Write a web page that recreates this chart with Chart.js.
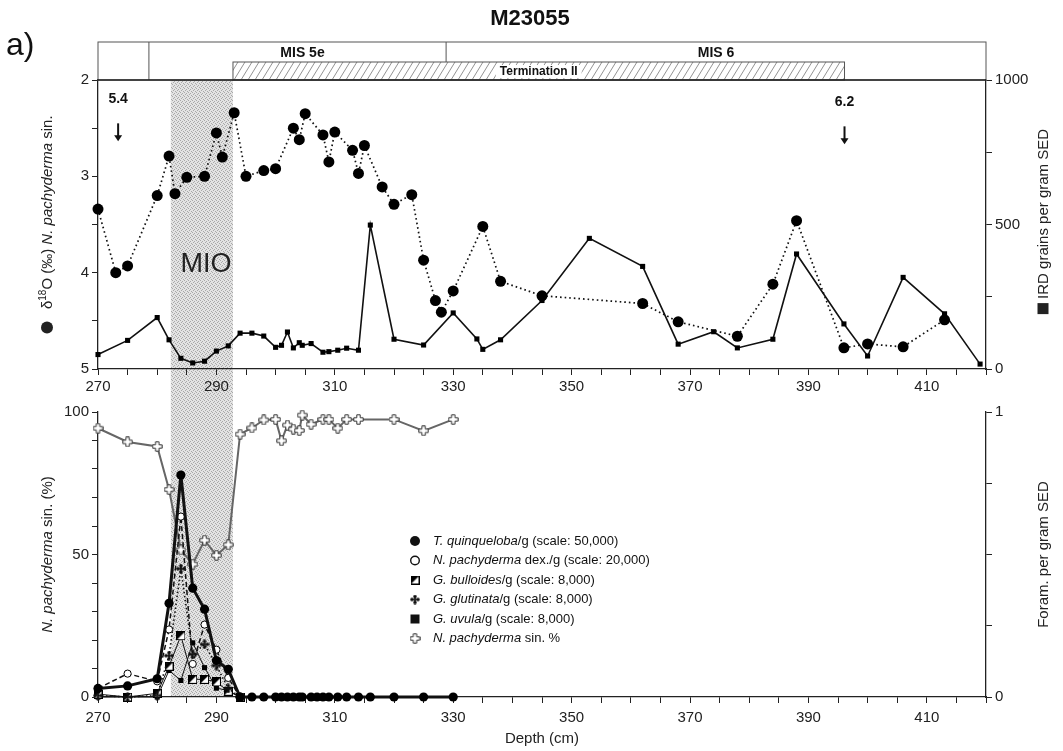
<!DOCTYPE html>
<html>
<head>
<meta charset="utf-8">
<title>M23055</title>
<script src="https://cdn.jsdelivr.net/npm/chart.js@4"></script>
<style>
body{margin:0;background:#fff;width:1063px;height:751px;overflow:hidden;position:relative}
canvas{position:absolute;left:0}
#top{top:0}
#bot{top:400px}
</style>
</head>
<body>
<canvas id="top" width="1063" height="400"></canvas>
<canvas id="bot" width="1063" height="351"></canvas>
<script>
// depth range shared by both panels (cm)
const depthMin = 270, depthMax = 420;

// upper panel : d18O N. pachyderma sin. (per mil)
const o18Depth = [270, 273, 275, 280, 282, 283, 285, 288, 290, 291, 293, 295, 298, 300, 303, 304, 305, 308, 309, 310, 313, 314, 315, 318, 320, 323, 325, 327, 328, 330, 335, 338, 345, 362, 368, 378, 384, 388, 396, 400, 406, 413];
const o18Value = [3.34, 4.00, 3.93, 3.20, 2.79, 3.18, 3.01, 3.00, 2.55, 2.80, 2.34, 3.00, 2.94, 2.92, 2.50, 2.62, 2.35, 2.57, 2.85, 2.54, 2.73, 2.97, 2.68, 3.11, 3.29, 3.19, 3.87, 4.29, 4.41, 4.19, 3.52, 4.09, 4.24, 4.32, 4.51, 4.66, 4.12, 3.46, 4.78, 4.74, 4.77, 4.49];

// upper panel : IRD grains per gram sediment
const irdDepth = [270, 275, 280, 282, 284, 286, 288, 290, 292, 294, 296, 298, 300, 301, 302, 303, 304, 304.5, 306, 308, 309, 310.5, 312, 314, 316, 320, 325, 330, 334, 335, 338, 345, 353, 362, 368, 374, 378, 384, 388, 396, 400, 406, 413, 419];
const irdValue = [50, 99, 178, 101, 37, 21, 27, 62, 80, 124, 124, 114, 75, 82, 128, 73, 91, 82, 88, 58, 60, 65, 72, 65, 498, 103, 83, 194, 104, 68, 101, 237, 452, 355, 86, 129, 73, 103, 398, 156, 45, 317, 191, 17];

// lower panel : N. pachyderma sin. (%)
const sinDepth = [270, 275, 280, 282, 284, 286, 288, 290, 292, 294, 296, 298, 300, 301, 302, 303, 304, 304.5, 306, 308, 309, 310.5, 312, 314, 320, 325, 330];
const sinPct = [94.3, 89.5, 87.9, 72.8, 51.6, 46.6, 55, 49.7, 53.4, 92.2, 94.4, 97.2, 97.4, 89.9, 95.4, 94.0, 93.5, 98.9, 95.7, 97.4, 97.4, 94.3, 97.4, 97.4, 97.4, 93.4, 97.4];

// lower panel : foraminifera per gram, as fraction of the legend scale
const quinqDepth = [270, 275, 280, 282, 284, 286, 288, 290, 292, 294, 296, 298, 300, 301, 302, 303, 304, 304.5, 306, 307, 308, 309, 310.5, 312, 314, 316, 320, 325, 330];
const quinqValue = [0.030, 0.039, 0.064, 0.329, 0.779, 0.382, 0.308, 0.128, 0.097, 0, 0, 0, 0, 0, 0, 0, 0, 0, 0, 0, 0, 0, 0, 0, 0, 0, 0, 0, 0];
const foramDepth = [270, 275, 280, 282, 284, 286, 288, 290, 292, 294];
const dexValue = [0.030, 0.082, 0.055, 0.237, 0.633, 0.116, 0.254, 0.166, 0.067, 0];
const bullValue = [0.010, 0, 0.013, 0.108, 0.215, 0.062, 0.062, 0.053, 0.020, 0];
const glutValue = [0.005, 0, 0.005, 0.145, 0.450, 0.150, 0.185, 0.110, 0.030, 0];
const uvulaValue = [0, 0, 0, 0.093, 0.058, 0.190, 0.103, 0.031, 0.023, 0];

// stratigraphy bar and marks
const misDividers = [278.6, 328.8];
const terminationII = [292.8, 396.1];
const mioBand = [282.3, 292.8];
const isoEvents = ['5.4', '6.2'];
const isoEventDepth = [273.4, 396.1];

const FONT = 'Liberation Sans, Arial, sans-serif';
Chart.defaults.font.family = FONT;
Chart.defaults.color = '#222';

const pts = (xs, ys) => xs.map((x, i) => ({x, y: ys[i]}));

// small marker images
function openCross() {
  const c = document.createElement('canvas'); c.width = c.height = 11;
  const g = c.getContext('2d');
  const a = 0.8, b = 3.8, d = 7.2, e = 10.2;
  g.beginPath();
  g.moveTo(b, a); g.lineTo(d, a); g.lineTo(d, b); g.lineTo(e, b); g.lineTo(e, d); g.lineTo(d, d);
  g.lineTo(d, e); g.lineTo(b, e); g.lineTo(b, d); g.lineTo(a, d); g.lineTo(a, b); g.lineTo(b, b); g.closePath();
  g.fillStyle = '#fff'; g.fill(); g.strokeStyle = '#333'; g.lineWidth = 1; g.stroke();
  return c;
}
function halfSquare() {
  const c = document.createElement('canvas'); c.width = c.height = 9;
  const g = c.getContext('2d');
  g.fillStyle = '#fff'; g.fillRect(0.5, 0.5, 8, 8);
  g.beginPath(); g.moveTo(0.5, 0.5); g.lineTo(8.5, 0.5); g.lineTo(0.5, 8.5); g.closePath();
  g.fillStyle = '#000'; g.fill();
  g.strokeStyle = '#000'; g.lineWidth = 1; g.strokeRect(0.5, 0.5, 8, 8);
  return c;
}
function glutMark() {
  const c = document.createElement('canvas'); c.width = c.height = 10;
  const g = c.getContext('2d');
  g.fillStyle = '#111';
  [[5, 2], [5, 8], [2, 5], [8, 5]].forEach(([x, y]) => { g.beginPath(); g.arc(x, y, 1.8, 0, Math.PI * 2); g.fill(); });
  g.fillRect(4.3, 2, 1.4, 6); g.fillRect(2, 4.3, 6, 1.4);
  return c;
}
const imgCross = openCross(), imgHalf = halfSquare(), imgGlut = glutMark();

// stippled shading for the MIO band
const pat = (() => {
  const c = document.createElement('canvas'); c.width = c.height = 4;
  const g = c.getContext('2d');
  g.fillStyle = '#e3e3e3'; g.fillRect(0, 0, 4, 4);
  g.fillStyle = '#a8a8a8';
  [[0, 0], [2, 1], [1, 2], [3, 3]].forEach(([x, y]) => g.fillRect(x, y, 1, 1));
  return g.createPattern(c, 'repeat');
})();

function richText(ctx, parts, cx, cy, rot) {
  ctx.save();
  ctx.translate(cx, cy); ctx.rotate(rot);
  ctx.textBaseline = 'alphabetic'; ctx.textAlign = 'left'; ctx.fillStyle = '#222';
  let w = 0;
  parts.forEach(p => {
    if (p.dot) p.w = p.dot * 2;
    else if (p.sq) p.w = p.sq;
    else { ctx.font = p.font; p.w = ctx.measureText(p.t).width; }
    w += p.w;
  });
  let x = -w / 2;
  parts.forEach(p => {
    if (p.dot) { ctx.beginPath(); ctx.arc(x + p.dot, 0, p.dot, 0, Math.PI * 2); ctx.fill(); }
    else if (p.sq) ctx.fillRect(x, -p.sq / 2, p.sq, p.sq);
    else { ctx.font = p.font; ctx.fillText(p.t, x, 5 + (p.dy || 0)); }
    x += p.w;
  });
  ctx.restore();
}

const tickCfg = (extra) => Object.assign({
  grid: {display: true, drawOnChartArea: false, drawTicks: true, tickLength: 6, color: '#222', lineWidth: 1},
  border: {display: true, color: '#222', width: 1.3},
}, extra);

const xAxis = (pad) => tickCfg({
  type: 'linear', min: depthMin, max: depthMax,
  ticks: {stepSize: 5, autoSkip: false, maxRotation: 0, padding: pad, font: {size: 15},
    callback: v => ((v - depthMin) % 20 === 0 && v <= 410) ? v : ''},
});

// ---------- upper panel ----------
const upperDecor = {
  id: 'upperDecor',
  beforeDraw(chart) {
    const {ctx, chartArea: a} = chart, x = chart.scales.x;
    const x0 = x.getPixelForValue(mioBand[0]), x1 = x.getPixelForValue(mioBand[1]);
    ctx.save(); ctx.fillStyle = pat; ctx.fillRect(x0, a.top, x1 - x0, chart.height - a.top); ctx.restore();
  },
  afterDraw(chart) {
    const {ctx, chartArea: a} = chart, x = chart.scales.x, yO = chart.scales.yO;
    ctx.save();
    // title and panel letter
    ctx.fillStyle = '#111'; ctx.textAlign = 'center'; ctx.textBaseline = 'middle';
    ctx.font = 'bold 22px ' + FONT; ctx.fillText('M23055', 530, 19);
    ctx.textAlign = 'left'; ctx.font = '32px ' + FONT; ctx.fillText('a)', 6, 46);

    // stratigraphy box
    const top = a.top - 38, mid = a.top - 18;
    ctx.strokeStyle = '#555'; ctx.lineWidth = 1;
    ctx.strokeRect(a.left, top, a.right - a.left, a.top - top);
    ctx.beginPath();
    ctx.moveTo(x.getPixelForValue(misDividers[0]), top); ctx.lineTo(x.getPixelForValue(misDividers[0]), a.top);
    ctx.moveTo(x.getPixelForValue(misDividers[1]), top); ctx.lineTo(x.getPixelForValue(misDividers[1]), mid);
    ctx.stroke();
    const t0 = x.getPixelForValue(terminationII[0]), t1 = x.getPixelForValue(terminationII[1]);
    ctx.save();
    ctx.beginPath(); ctx.rect(t0, mid, t1 - t0, a.top - mid); ctx.clip();
    ctx.strokeStyle = '#777'; ctx.lineWidth = 0.8; ctx.beginPath();
    for (let hx = t0 - 20; hx < t1 + 20; hx += 7) { ctx.moveTo(hx, a.top); ctx.lineTo(hx + 11, mid); }
    ctx.stroke();
    ctx.restore();
    ctx.strokeStyle = '#555'; ctx.strokeRect(t0, mid, t1 - t0, a.top - mid);
    ctx.font = 'bold 12px ' + FONT; ctx.textAlign = 'center';
    const tm = (t0 + t1) / 2, tw = ctx.measureText('Termination II').width;
    ctx.fillStyle = '#fff'; ctx.fillRect(tm - tw / 2 - 4, mid + 3, tw + 8, 13);
    ctx.fillStyle = '#111'; ctx.fillText('Termination II', tm, mid + 10);
    ctx.font = 'bold 14px ' + FONT;
    ctx.fillText('MIS 5e', (x.getPixelForValue(misDividers[0]) + x.getPixelForValue(misDividers[1])) / 2 + 5, top + 11);
    ctx.fillText('MIS 6', (x.getPixelForValue(misDividers[1]) + a.right) / 2, top + 11);

    // isotope event arrows
    isoEventDepth.forEach((d, i) => {
      const px = x.getPixelForValue(d);
      ctx.font = 'bold 14px ' + FONT; ctx.fillStyle = '#111';
      ctx.fillText(isoEvents[i], px, yO.getPixelForValue(2.2) + (i ? 3 : 0));
      const ya = yO.getPixelForValue(2.45) + (i ? 3 : 0), yb = ya + 18;
      ctx.strokeStyle = '#111'; ctx.lineWidth = 2;
      ctx.beginPath(); ctx.moveTo(px, ya); ctx.lineTo(px, yb - 4); ctx.stroke();
      ctx.beginPath(); ctx.moveTo(px - 4, yb - 6); ctx.lineTo(px + 4, yb - 6); ctx.lineTo(px, yb); ctx.closePath(); ctx.fill();
    });

    // MIO label
    ctx.font = '27px ' + FONT; ctx.fillStyle = '#222';
    ctx.fillText('MIO', x.getPixelForValue((mioBand[0] + mioBand[1]) / 2) + 4, yO.getPixelForValue(3.92));

    // top frame line
    ctx.strokeStyle = '#222'; ctx.lineWidth = 1.3;
    ctx.beginPath(); ctx.moveTo(a.left, a.top); ctx.lineTo(a.right, a.top); ctx.stroke();

    // axis titles
    const f = '15px ' + FONT, fi = 'italic 15px ' + FONT;
    richText(ctx, [{dot: 6}, {t: '   \u03b4', font: f}, {t: '18', font: '10px ' + FONT, dy: -6}, {t: 'O (\u2030) ', font: f},
      {t: 'N. pachyderma', font: fi}, {t: ' sin.', font: f}], 47, (a.top + a.bottom) / 2, -Math.PI / 2);
    richText(ctx, [{sq: 11}, {t: ' IRD grains per gram SED', font: f}], 1043, (a.top + a.bottom) / 2 - 3, -Math.PI / 2);
    ctx.restore();
  }
};

new Chart(document.getElementById('top'), {
  type: 'line',
  data: {
    datasets: [
      {label: 'd18O', data: pts(o18Depth, o18Value), yAxisID: 'yO', borderColor: '#111', borderWidth: 1.7,
        borderDash: [1.6, 3], pointStyle: 'circle', pointRadius: 5.5, pointBackgroundColor: '#000',
        pointBorderColor: '#000', pointBorderWidth: 0, clip: false},
      {label: 'IRD', data: pts(irdDepth, irdValue), yAxisID: 'yIRD', borderColor: '#111', borderWidth: 1.6,
        pointStyle: 'rect', pointRadius: 3.6, pointBackgroundColor: '#000', pointBorderWidth: 0, clip: false},
    ]
  },
  options: {
    responsive: false, animation: false,
    layout: {padding: {top: 80, left: 0, right: 0, bottom: 0}},
    plugins: {legend: {display: false}, tooltip: {enabled: false}},
    scales: {
      x: Object.assign(xAxis(3), {afterFit: s => { s.height = 31; }}),
      yO: tickCfg({type: 'linear', position: 'left', reverse: true, min: 2, max: 5,
        ticks: {stepSize: 0.5, padding: 3, font: {size: 15}, callback: v => Number.isInteger(v) ? v : ''},
        afterFit: s => { s.width = 98; }}),
      yIRD: tickCfg({type: 'linear', position: 'right', min: 0, max: 1000,
        ticks: {stepSize: 250, padding: 3, font: {size: 15}, callback: v => v % 500 === 0 ? v : ''},
        afterFit: s => { s.width = 77; }}),
    }
  },
  plugins: [upperDecor]
});

// ---------- lower panel ----------
const legendItems = [
  {mark: 'dot', it: 'T. quinqueloba', rest: '/g (scale: 50,000)'},
  {mark: 'ring', it: 'N. pachyderma', rest: ' dex./g (scale: 20,000)'},
  {mark: imgHalf, it: 'G. bulloides', rest: '/g (scale: 8,000)'},
  {mark: imgGlut, it: 'G. glutinata', rest: '/g (scale: 8,000)'},
  {mark: 'sq', it: 'G. uvula', rest: '/g (scale: 8,000)'},
  {mark: imgCross, it: 'N. pachyderma', rest: ' sin. %'},
];

const lowerDecor = {
  id: 'lowerDecor',
  beforeDraw(chart) {
    const {ctx, chartArea: a} = chart, x = chart.scales.x;
    const x0 = x.getPixelForValue(mioBand[0]), x1 = x.getPixelForValue(mioBand[1]);
    ctx.save(); ctx.fillStyle = pat; ctx.fillRect(x0, 0, x1 - x0, a.bottom); ctx.restore();
  },
  afterDraw(chart) {
    const {ctx, chartArea: a} = chart;
    ctx.save();
    // legend
    const lx = 415, ly0 = a.top + 129;
    legendItems.forEach((it, i) => {
      const y = ly0 + i * 19.5;
      ctx.fillStyle = '#111'; ctx.strokeStyle = '#111'; ctx.lineWidth = 1.4;
      if (it.mark === 'dot') { ctx.beginPath(); ctx.arc(lx, y, 5, 0, Math.PI * 2); ctx.fill(); }
      else if (it.mark === 'ring') { ctx.beginPath(); ctx.arc(lx, y, 4.3, 0, Math.PI * 2); ctx.stroke(); }
      else if (it.mark === 'sq') ctx.fillRect(lx - 4.5, y - 4.5, 9, 9);
      else ctx.drawImage(it.mark, lx - it.mark.width / 2, y - it.mark.height / 2);
      ctx.textBaseline = 'middle'; ctx.textAlign = 'left';
      ctx.font = 'italic 13px ' + FONT; ctx.fillText(it.it, lx + 18, y);
      const w = ctx.measureText(it.it).width;
      ctx.font = '13px ' + FONT; ctx.fillText(it.rest, lx + 18 + w, y);
    });
    const f = '15px ' + FONT, fi = 'italic 15px ' + FONT;
    richText(ctx, [{t: 'N. pachyderma', font: fi}, {t: ' sin. (%)', font: f}], 47, (a.top + a.bottom) / 2, -Math.PI / 2);
    richText(ctx, [{t: 'Foram. per gram SED', font: f}], 1043, (a.top + a.bottom) / 2, -Math.PI / 2);
    ctx.restore();
  }
};

const foramSet = (label, xs, ys, style) => Object.assign({
  label, data: pts(xs, ys), yAxisID: 'yForam', borderColor: '#111', clip: false,
  pointBackgroundColor: '#000', pointBorderColor: '#000', pointBorderWidth: 0
}, style);

new Chart(document.getElementById('bot'), {
  type: 'line',
  data: {
    datasets: [
      foramSet('T. quinqueloba', quinqDepth, quinqValue, {borderWidth: 3, pointStyle: 'circle', pointRadius: 4.6}),
      foramSet('N. pachyderma dex.', foramDepth, dexValue, {borderWidth: 1.5, borderDash: [5, 3], pointStyle: 'circle',
        pointRadius: 3.6, pointBackgroundColor: '#fff', pointBorderWidth: 1}),
      foramSet('G. glutinata', foramDepth, glutValue, {borderWidth: 1.6, borderDash: [1.5, 2.5], pointStyle: imgGlut}),
      foramSet('G. bulloides', foramDepth, bullValue, {borderWidth: 1, pointStyle: imgHalf}),
      foramSet('G. uvula', foramDepth, uvulaValue, {borderWidth: 1, pointStyle: 'rect', pointRadius: 3.6}),
      {label: 'N. pachyderma sin. %', data: pts(sinDepth, sinPct), yAxisID: 'yPct', borderColor: '#666',
        borderWidth: 2, pointStyle: imgCross, clip: false},
    ]
  },
  options: {
    responsive: false, animation: false,
    layout: {padding: {top: 6, left: 0, right: 0, bottom: 0}},
    plugins: {legend: {display: false}, tooltip: {enabled: false}},
    scales: {
      x: Object.assign(xAxis(6), {
        title: {display: true, text: 'Depth (cm)', font: {size: 15}, padding: {top: 0, bottom: 3}},
        afterFit: s => { s.height = 54; }}),
      yPct: tickCfg({type: 'linear', position: 'left', min: 0, max: 100,
        ticks: {stepSize: 10, padding: 3, font: {size: 15}, callback: v => v % 50 === 0 ? v : ''},
        afterFit: s => { s.width = 98; }}),
      yForam: tickCfg({type: 'linear', position: 'right', min: 0, max: 1,
        ticks: {stepSize: 0.25, padding: 3, font: {size: 15}, callback: v => (v === 0 || v === 1) ? v : ''},
        afterFit: s => { s.width = 77; }}),
    }
  },
  plugins: [lowerDecor]
});
</script>
</body>
</html>
